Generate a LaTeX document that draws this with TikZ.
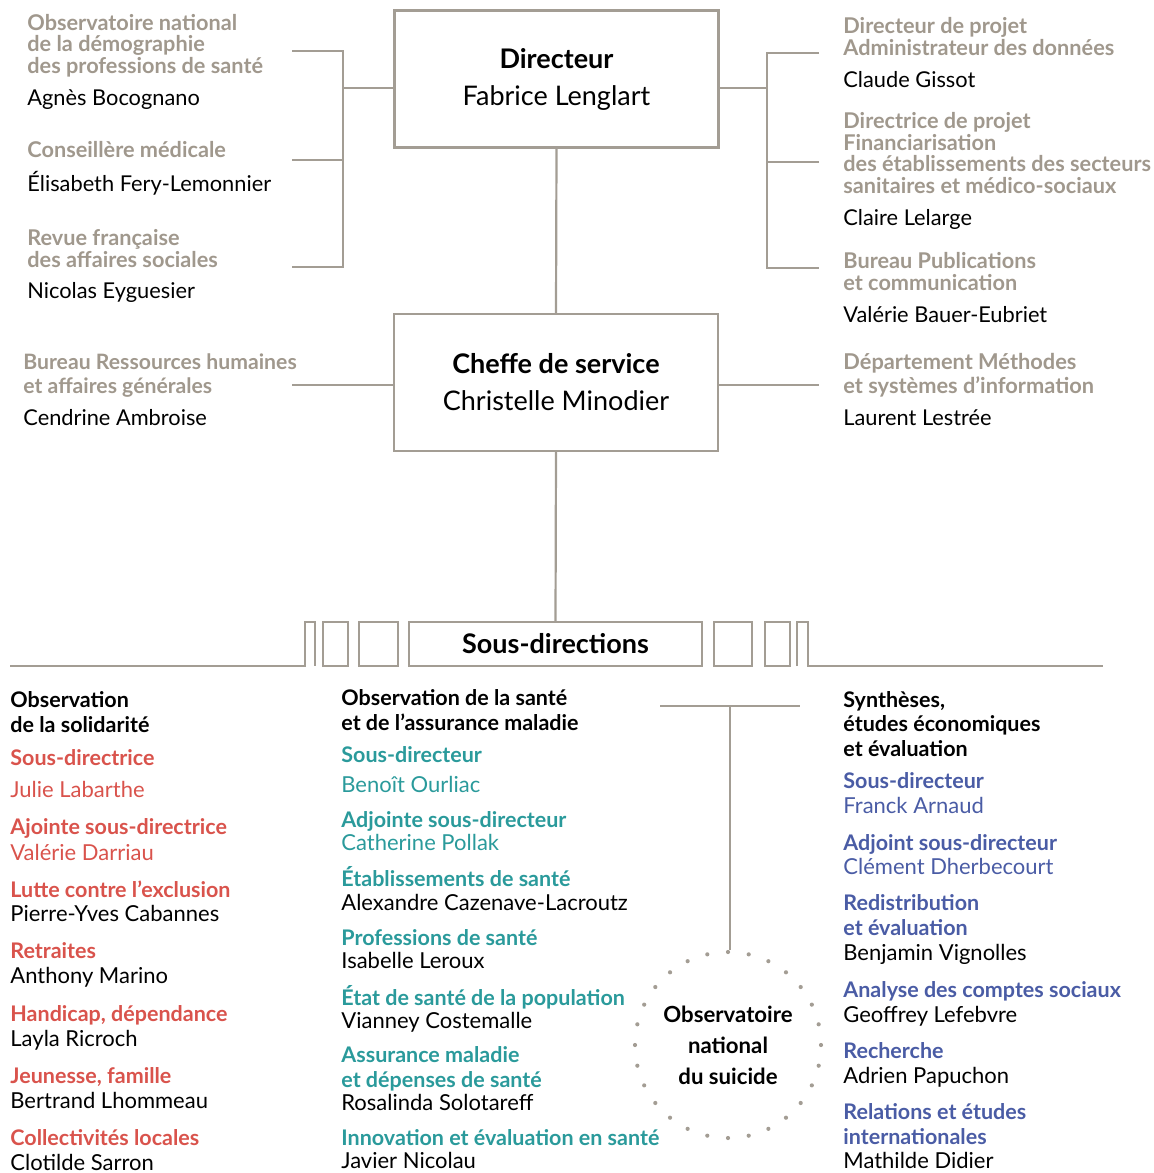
\documentclass[tikz,border=0pt]{standalone}
\usepackage{fontspec}
\setmainfont{Lato}
\usetikzlibrary{calc}

\definecolor{taupe}{HTML}{A0988D}
\definecolor{trait}{HTML}{A39D94}
\definecolor{rouge}{HTML}{D9534C}
\definecolor{canard}{HTML}{2A9A9B}
\definecolor{bleu}{HTML}{4A5CA5}

\newcommand{\tightlines}{\lineskiplimit=-100pt\relax}

\tikzset{
  link/.style={draw=trait, line width=1.1pt},
  chefbox/.style={draw=trait, line width=1.1pt, minimum width=162pt, minimum height=68.5pt,
    align=center, font=\fontsize{13.5}{18.5}\selectfont},
  hd/.style={anchor=mid west, inner sep=0pt, align=left, text=taupe,
    font={\bfseries\fontsize{10.85}{10.75}\selectfont\tightlines}},
  nm/.style={anchor=mid west, inner sep=0pt, align=left, font=\fontsize{10.9}{12}\selectfont},
  sdtitle/.style={anchor=mid west, inner sep=0pt, align=left,
    font={\bfseries\fontsize{10.75}{12.25}\selectfont\tightlines}},
  sdhd/.style={sdtitle, text=#1},
  sdnm/.style={anchor=mid west, inner sep=0pt, align=left, text=#1,
    font=\fontsize{11}{12.25}\selectfont},
  sdnm/.default=black,
}

\begin{document}
\begin{tikzpicture}[x=0.5pt, y=-0.5pt]
    \useasboundingbox (0,0) rectangle (1153,1173);

    % direction
    \node[chefbox] (dir) at (556.5,79) {\textbf{Directeur}\\Fabrice Lenglart};
    \node[chefbox] (chef) at (556,382.5) {\textbf{Cheffe de service}\\Christelle Minodier};
    \node[draw=trait, line width=1.1pt, minimum width=146.5pt, minimum height=22pt,
          font=\bfseries\fontsize{13.5}{14}\selectfont] (sous) at (555.5,644) {Sous-directions};
    \draw[link] (dir.south) -- (chef.north);
    \draw[link] (chef.south) -- (sous.north);

    % left bracket (multi-line nodes are placed by their last line)
    \node[hd] (ondps) at (27,68) {Observatoire national\\de la démographie\\des professions de santé};
    \node[nm] (ondps-n) at (27,100) {Agnès Bocognano};
    \node[hd] (cm) at (27,152) {Conseillère médicale};
    \node[nm] (cm-n) at (27,186) {Élisabeth Fery-Lemonnier};
    \node[hd] (rfas) at (27,262) {Revue française\\des affaires sociales};
    \node[nm] (rfas-n) at (27,293) {Nicolas Eyguesier};
    \coordinate (bl1) at (292,51);
    \coordinate (bl2) at (292,160);
    \coordinate (bl3) at (292,267);
    \coordinate (blv) at (343,88);
    \draw[link] (bl1) -- (bl1 -| blv) -- (bl3 -| blv) -- (bl3);
    \draw[link] (bl2) -- (bl2 -| blv);
    \draw[link] (blv) -- (blv -| dir.west);

    % right bracket
    \node[hd] (dpad) at (843,50) {Directeur de projet\\Administrateur des données};
    \node[nm] (dpad-n) at (843,82) {Claude Gissot};
    \node[hd] (dpf) at (843,188) {Directrice de projet\\Financiarisation\\des établissements des secteurs\\sanitaires et médico-sociaux};
    \node[nm] (dpf-n) at (843,220) {Claire Lelarge};
    \node[hd] (bpc) at (843,285) {Bureau Publications\\et communication};
    \node[nm] (bpc-n) at (843,317) {Valérie Bauer-Eubriet};
    \coordinate (br1) at (819,53);
    \coordinate (br2) at (819,162);
    \coordinate (br3) at (819,268);
    \coordinate (brv) at (767,88);
    \draw[link] (br1) -- (br1 -| brv) -- (br3 -| brv) -- (br3);
    \draw[link] (br2) -- (br2 -| brv);
    \draw[link] (brv) -- (brv -| dir.east);

    % beside the cheffe de service
    \node[hd, font={\bfseries\fontsize{10.6}{12}\selectfont}] (brh) at (23,388) {Bureau Ressources humaines\\et affaires générales};
    \node[nm] (brh-n) at (23,420) {Cendrine Ambroise};
    \node[hd, font={\bfseries\fontsize{10.9}{12}\selectfont}] (dmsi) at (843,388) {Département Méthodes\\et systèmes d’information};
    \node[nm] (dmsi-n) at (843,420) {Laurent Lestrée};
    \coordinate (cl) at (292,385);
    \coordinate (cr) at (819,385);
    \draw[link] (cl) -- (cl -| chef.west);
    \draw[link] (chef.east |- cr) -- (cr);

    % sous-directions bar
    \draw[link] (10,666) -- (305,666) -- (305,622) -- (315,622) -- (315,666);
    \draw[link] (323,622) rectangle (348,666);
    \draw[link] (359,622) rectangle (398,666);
    \draw[link] (714,622) rectangle (752,666);
    \draw[link] (765,622) rectangle (790,666);
    \draw[link] (797,666) -- (797,622) -- (808,622) -- (808,666) -- (1103,666);

    % observation de la solidarite
    \node[sdtitle] (os) at (10,727) {Observation\\de la solidarité};
    \node[sdhd=rouge] (os1) at (10,760) {Sous-directrice};
    \node[sdnm=rouge] (os1-n) at (10,792) {Julie Labarthe};
    \node[sdhd=rouge] (os2) at (10,829) {Ajointe sous-directrice};
    \node[sdnm=rouge] (os2-n) at (10,855) {Valérie Darriau};
    \node[sdhd=rouge] (os3) at (10,892) {Lutte contre l’exclusion};
    \node[sdnm] (os3-n) at (10,916) {Pierre-Yves Cabannes};
    \node[sdhd=rouge] (os4) at (10,953) {Retraites};
    \node[sdnm] (os4-n) at (10,978) {Anthony Marino};
    \node[sdhd=rouge] (os5) at (10,1016) {Handicap, dépendance};
    \node[sdnm] (os5-n) at (10,1041) {Layla Ricroch};
    \node[sdhd=rouge] (os6) at (10,1078) {Jeunesse, famille};
    \node[sdnm] (os6-n) at (10,1103) {Bertrand Lhommeau};
    \node[sdhd=rouge] (os7) at (10,1140) {Collectivités locales};
    \node[sdnm] (os7-n) at (10,1165) {Clotilde Sarron};

    % observation de la sante
    \node[sdtitle] (osam) at (341,725) {Observation de la santé\\et de l’assurance maladie};
    \node[sdhd=canard] (osam1) at (341,757) {Sous-directeur};
    \node[sdnm=canard] (osam1-n) at (341,787) {Benoît Ourliac};
    \node[sdhd=canard] (osam2) at (341,822) {Adjointe sous-directeur};
    \node[sdnm=canard] (osam2-n) at (341,845) {Catherine Pollak};
    \node[sdhd=canard] (osam3) at (341,881) {Établissements de santé};
    \node[sdnm] (osam3-n) at (341,905) {Alexandre Cazenave-Lacroutz};
    \node[sdhd=canard] (osam4) at (341,940) {Professions de santé};
    \node[sdnm] (osam4-n) at (341,963) {Isabelle Leroux};
    \node[sdhd=canard] (osam5) at (341,1000) {État de santé de la population};
    \node[sdnm] (osam5-n) at (341,1023) {Vianney Costemalle};
    \node[sdhd=canard] (osam6) at (341,1082) {Assurance maladie\\et dépenses de santé};
    \node[sdnm] (osam6-n) at (341,1105) {Rosalinda Solotareff};
    \node[sdhd=canard] (osam7) at (341,1140) {Innovation et évaluation en santé};
    \node[sdnm] (osam7-n) at (341,1163) {Javier Nicolau};

    % observatoire national du suicide
    \node[circle, draw=trait, line width=2.1pt, line cap=round, dash pattern=on 0pt off 10.435pt,
          minimum size=93pt, align=center, font=\bfseries\fontsize{11.1}{15.5}\selectfont]
          (onsu) at (728,1045) {Observatoire\\national\\du suicide};
    \coordinate (tl) at (660,706);
    \coordinate (tr) at (800,706);
    \coordinate (tm) at (730,706);
    \draw[link] (tl) -- (tr);
    \draw[link] (tm) -- (tm |- onsu.north);

    % syntheses
    \node[sdtitle] (seee) at (843,751) {Synthèses,\\études économiques\\et évaluation};
    \node[sdhd=bleu] (seee1) at (843,783) {Sous-directeur};
    \node[sdnm=bleu] (seee1-n) at (843,808) {Franck Arnaud};
    \node[sdhd=bleu] (seee2) at (843,845) {Adjoint sous-directeur};
    \node[sdnm=bleu] (seee2-n) at (843,869) {Clément Dherbecourt};
    \node[sdhd=bleu] (seee3) at (843,930) {Redistribution\\et évaluation};
    \node[sdnm] (seee3-n) at (843,955) {Benjamin Vignolles};
    \node[sdhd=bleu] (seee4) at (843,992) {Analyse des comptes sociaux};
    \node[sdnm] (seee4-n) at (843,1017) {Geoffrey Lefebvre};
    \node[sdhd=bleu] (seee5) at (843,1053) {Recherche};
    \node[sdnm] (seee5-n) at (843,1078) {Adrien Papuchon};
    \node[sdhd=bleu] (seee6) at (843,1139) {Relations et études\\internationales};
    \node[sdnm] (seee6-n) at (843,1163) {Mathilde Didier};
\end{tikzpicture}
\end{document}
